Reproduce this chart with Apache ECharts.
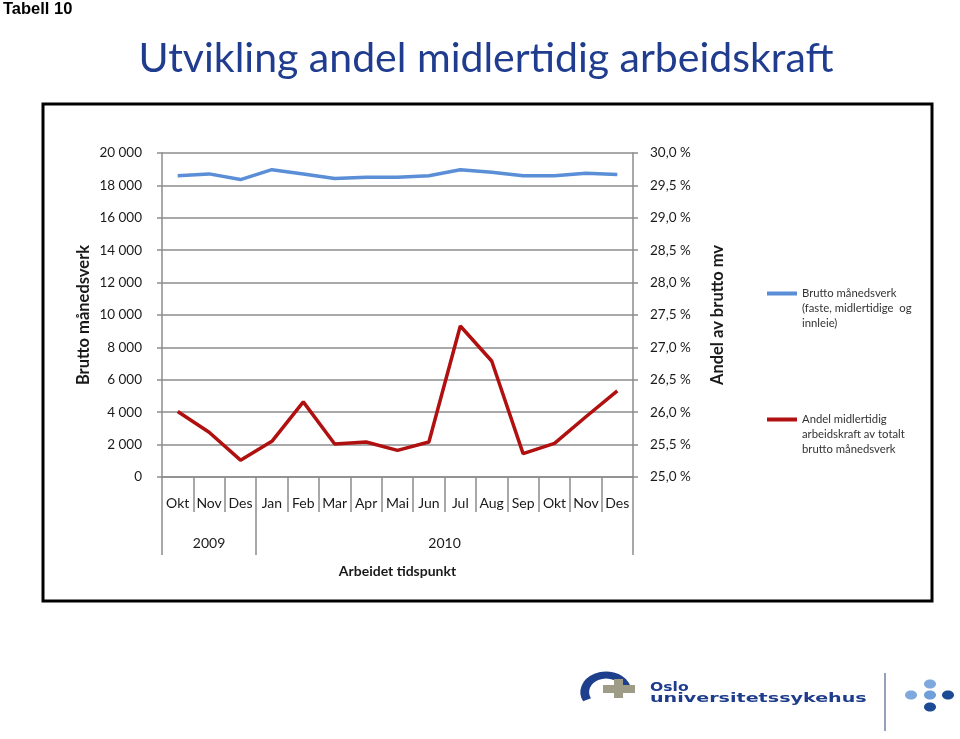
<!DOCTYPE html>
<html>
<head>
<meta charset="utf-8">
<script src="https://cdn.jsdelivr.net/npm/echarts@6/dist/echarts.min.js"></script>
<style>html,body{margin:0;padding:0;background:#fff;}#c{width:960px;height:739px;}</style>
</head>
<body>
<div id="c"></div>
<script>
const months = ['Okt','Nov','Des','Jan','Feb','Mar','Apr','Mai','Jun','Jul','Aug','Sep','Okt','Nov','Des'];
const monthYear = ['2009','2009','2009','2010','2010','2010','2010','2010','2010','2010','2010','2010','2010','2010','2010'];
const bruttoManedsverk = [18600,18710,18360,18970,18710,18420,18500,18500,18600,18970,18810,18600,18600,18750,18670];
const andelMidlertidig = [26.01,25.69,25.26,25.55,26.16,25.51,25.54,25.41,25.54,27.33,26.79,25.36,25.52,25.93,26.33];
const leftTicks = {min:0, max:20000, step:2000};
const rightTicks = {min:25, max:30, step:0.5};
const seriesNames = ['Brutto månedsverk\n(faste, midlertidige  og\ninnleie)', 'Andel midlertidig\narbeidskraft av totalt\nbrutto månedsverk'];

// year groups derived from monthYear
const yearBounds = [0];
const yearCenters = [];
const yearLabels = [];
{
  let start = 0;
  for (let i = 1; i <= monthYear.length; i++) {
    if (i === monthYear.length || monthYear[i] !== monthYear[start]) {
      yearBounds.push(i);
      yearCenters.push((start + i) / 2);
      yearLabels.push(monthYear[start]);
      start = i;
    }
  }
}

const FONT = 'Lato, "Noto Sans", sans-serif';
const GREY = '#8c8c8c';
const chart = echarts.init(document.getElementById('c'));
chart.setOption({
  animation: false,
  title: [
    {text: 'Tabell 10', left: 3, top: 1, padding: 0, textStyle: {fontFamily: '"Liberation Sans Narrow","Liberation Sans",Arial,sans-serif', fontWeight: 'bold', fontSize: 16.5, color: '#000'}},
    {text: 'Utvikling andel midlertidig arbeidskraft', left: 481, top: 33, textAlign: 'center', textStyle: {fontFamily: FONT, fontWeight: 'normal', fontSize: 41, color: '#1F3C8F'}}
  ],
  grid: {left: 162, right: 327, top: 153, bottom: 262, containLabel: false},
  legend: {
    orient: 'vertical', left: 767, top: 256, itemWidth: 30, itemHeight: 4, itemGap: 51, padding: 0,
    icon: 'rect',
    formatter: function (name) { return '\n\n' + name; },
    textStyle: {fontFamily: FONT, fontSize: 11.3, lineHeight: 15, color: '#333'},
    data: seriesNames
  },
  xAxis: [
    {
      type: 'category', data: months, boundaryGap: true, position: 'bottom',
      axisLine: {show: true, lineStyle: {color: GREY, width: 1.5}},
      axisTick: {show: true, interval: 0, length: 35, lineStyle: {color: GREY, width: 1.5}},
      axisLabel: {interval: 0, margin: 19, fontFamily: FONT, fontSize: 14, color: '#1a1a1a'},
      splitLine: {show: false}
    },
    {
      type: 'value', min: 0, max: months.length, position: 'bottom',
      axisLine: {show: false},
      axisTick: {show: true, customValues: yearBounds, length: 78, lineStyle: {color: GREY, width: 1.5}},
      axisLabel: {customValues: yearCenters, margin: 59, fontFamily: FONT, fontSize: 14, color: '#1a1a1a',
        formatter: function (v) { const i = yearCenters.indexOf(v); return i >= 0 ? yearLabels[i] : ''; }},
      splitLine: {show: false},
      name: 'Arbeidet tidspunkt', nameLocation: 'middle', nameGap: 87,
      nameTextStyle: {fontFamily: FONT, fontWeight: 'bold', fontSize: 14, color: '#1a1a1a'}
    }
  ],
  yAxis: [
    {
      type: 'value', min: leftTicks.min, max: leftTicks.max, interval: leftTicks.step, position: 'left',
      axisLine: {show: true, lineStyle: {color: GREY, width: 1.5}},
      axisTick: {show: true, length: 5, lineStyle: {color: GREY, width: 1.5}},
      splitLine: {show: true, lineStyle: {color: GREY, width: 1.5}},
      axisLabel: {margin: 20, fontFamily: FONT, fontSize: 13.5, color: '#1a1a1a',
        formatter: function (v) { return String(v).replace(/\B(?=(\d{3})+(?!\d))/g, ' '); }},
      name: 'Brutto månedsverk', nameLocation: 'middle', nameGap: 70, nameRotate: 90,
      nameTextStyle: {fontFamily: FONT, fontWeight: 'bold', fontSize: 16.5, color: '#1a1a1a'}
    },
    {
      type: 'value', min: rightTicks.min, max: rightTicks.max, interval: rightTicks.step, position: 'right',
      axisLine: {show: true, lineStyle: {color: GREY, width: 1.5}},
      axisTick: {show: true, length: 5, lineStyle: {color: GREY, width: 1.5}},
      splitLine: {show: false},
      axisLabel: {margin: 17, fontFamily: FONT, fontSize: 13.5, color: '#1a1a1a',
        formatter: function (v) { return v.toFixed(1).replace('.', ',') + ' %'; }},
      name: 'Andel av brutto mv', nameLocation: 'middle', nameGap: 76, nameRotate: 90,
      nameTextStyle: {fontFamily: FONT, fontWeight: 'bold', fontSize: 16.5, color: '#1a1a1a'}
    }
  ],
  series: [
    {name: seriesNames[0], type: 'line', xAxisIndex: 0, yAxisIndex: 0, data: bruttoManedsverk, symbol: 'none',
      lineStyle: {color: '#5A8ED6', width: 3.5}, itemStyle: {color: '#5A8ED6'}},
    {name: seriesNames[1], type: 'line', xAxisIndex: 0, yAxisIndex: 1, data: andelMidlertidig, symbol: 'none',
      lineStyle: {color: '#B0100F', width: 3.5}, itemStyle: {color: '#B0100F'}}
  ],
  graphic: [
    {type: 'rect', shape: {x: 43, y: 104, width: 889, height: 497}, style: {fill: 'none', stroke: '#000', lineWidth: 3}, z: 100},
    {type: 'group', children: [
      {type: 'arc', x: 606, y: 692, scaleX: 1.25, shape: {cx: 0, cy: 0, r: 17, startAngle: Math.PI * 0.85, endAngle: Math.PI * 1.97, clockwise: true},
        style: {stroke: '#1E3F8C', lineWidth: 7, fill: 'none'}},
      {type: 'rect', shape: {x: 614, y: 679, width: 9, height: 19}, style: {fill: '#9E9B86'}},
      {type: 'rect', shape: {x: 603, y: 685, width: 32, height: 8}, style: {fill: '#9E9B86'}},
      {type: 'text', x: 650, y: 0, scaleX: 1.2, style: {x: 0, y: 694, text: 'Oslo', fontFamily: '"DejaVu Sans", sans-serif', fontWeight: 'bold', fontSize: 13, fill: '#1E3C8C', textVerticalAlign: 'bottom'}},
      {type: 'text', x: 650, y: 0, scaleX: 1.47, style: {x: 0, y: 705, text: 'universitetssykehus', fontFamily: '"DejaVu Sans", sans-serif', fontWeight: 'bold', fontSize: 13, fill: '#1E3C8C', textVerticalAlign: 'bottom'}},
      {type: 'line', shape: {x1: 885, y1: 673, x2: 885, y2: 731}, style: {stroke: '#7080A8', lineWidth: 1.5}},
      {type: 'ellipse', shape: {cx: 930, cy: 684, rx: 6, ry: 4.5}, style: {fill: '#7FA9DD'}},
      {type: 'ellipse', shape: {cx: 911, cy: 695, rx: 6, ry: 4.5}, style: {fill: '#7FA9DD'}},
      {type: 'ellipse', shape: {cx: 930, cy: 695, rx: 6, ry: 4.5}, style: {fill: '#6F9FD8'}},
      {type: 'ellipse', shape: {cx: 948, cy: 695, rx: 6, ry: 4.5}, style: {fill: '#1C4A95'}},
      {type: 'ellipse', shape: {cx: 930, cy: 707, rx: 6, ry: 4.5}, style: {fill: '#1C4A95'}}
    ]}
  ]
});
</script>
</body>
</html>
